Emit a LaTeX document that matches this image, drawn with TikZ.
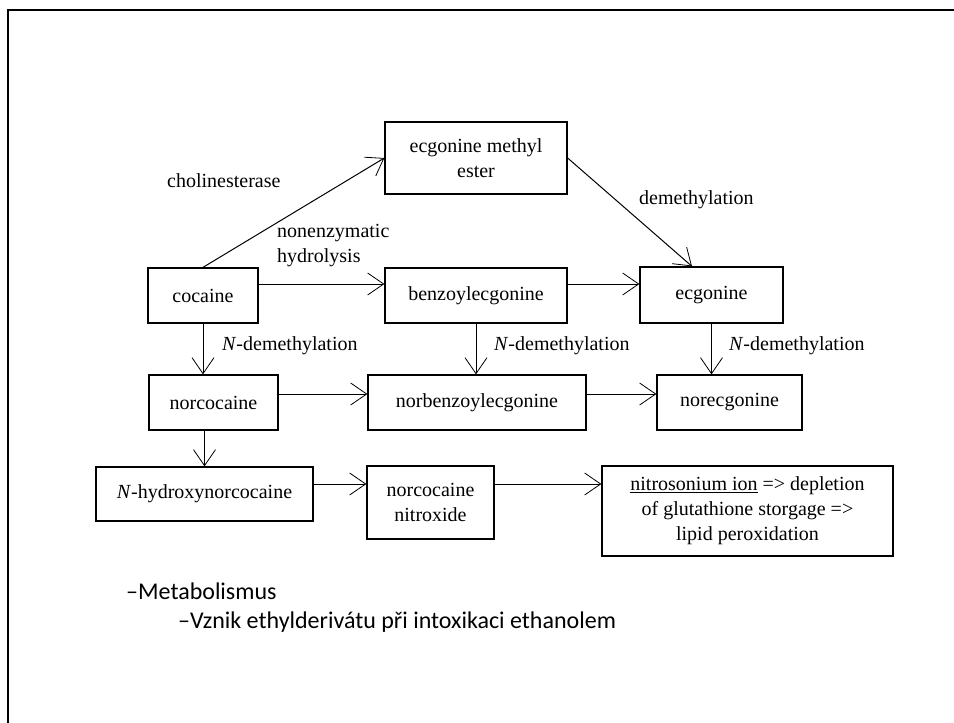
\documentclass[tikz,border=0pt]{standalone}
\usepackage{fontspec}
\setmainfont{Liberation Serif}
\newfontfamily\slidefont{Carlito}
\usetikzlibrary{arrows.meta}

\begin{document}
\begin{tikzpicture}
  [x=1pt,y=-1pt,
   every node/.style={font=\fontsize{20}{25}\selectfont,inner sep=0pt},
   chem/.style={draw,line width=1.3pt,align=center},
   arr/.style={line width=1pt,-{Straight Barb[length=16pt,width=22pt,line width=0.8pt]}},
   slide/.style={anchor=west,font=\slidefont\fontsize{24}{29}\selectfont}]
  \useasboundingbox (0,0) rectangle (954,723);
  \draw[line width=2pt] (8,723) -- (8,10) -- (954,10);
  % compounds
  \node[chem,minimum width=182pt,minimum height=72pt] (eme) at (476,158) {ecgonine methyl\\ester};
  \node[chem,minimum width=110pt,minimum height=55pt] (coc) at (203,295.5) {cocaine};
  \node[chem,minimum width=182pt,minimum height=55pt] (bz) at (476,295.5) {benzoylecgonine};
  \node[chem,minimum width=143pt,minimum height=56pt] (ec) at (711.5,295) {ecgonine};
  \node[chem,minimum width=129pt,minimum height=55pt] (nc) at (213.5,402.5) {norcocaine};
  \node[chem,minimum width=218pt,minimum height=55pt] (nbz) at (477,402.5) {norbenzoylecgonine};
  \node[chem,minimum width=145pt,minimum height=55pt] (nec) at (729.5,402.5) {norecgonine};
  \node[chem,minimum width=217pt,minimum height=54pt] (hnc) at (204.5,494) {\emph{N}-hydroxynorcocaine};
  \node[chem,minimum width=127pt,minimum height=73pt] (nox) at (430.5,502.5) {norcocaine\\nitroxide};
  \node[chem,minimum width=291pt,minimum height=90pt] (nio) at (747.5,511) {\underline{nitrosonium ion} => depletion\\of glutathione storgage =>\\lipid peroxidation};
  % labels
  \node[anchor=west] (lchol) at (167,181) {cholinesterase};
  \node[anchor=west,align=left] (lhyd) at (277,246) {nonenzymatic\\hydrolysis};
  \node[anchor=west] (ldem) at (639,200) {demethylation};
  \foreach \name/\x in {lnd1/222,lnd2/494,lnd3/729}
    \node[anchor=west] (\name) at (\x,346) {\emph{N}-demethylation};
  % reactions
  \draw[arr] (coc.north) -- (eme.west);
  \draw[arr] (eme.east) -- ([xshift=-19.5pt]ec.north);
  \draw[arr] ([yshift=11.5pt]coc.east) -- ([yshift=11.5pt]bz.west);
  \draw[arr] ([yshift=11.5pt]bz.east) -- ([yshift=11pt]ec.west);
  \draw[arr] ([yshift=8.5pt]nc.east) -- ([yshift=8.5pt]nbz.west);
  \draw[arr] ([yshift=8.5pt]nbz.east) -- ([yshift=8.5pt]nec.west);
  \draw[arr] (coc.south) -- (nc.north -| coc.south);
  \draw[arr] (bz.south) -- (nbz.north -| bz.south);
  \draw[arr] (ec.south) -- (nec.north -| ec.south);
  \draw[arr] (nc.south -| hnc.north) -- (hnc.north);
  \draw[arr] ([yshift=10pt]hnc.east) -- ([yshift=18.5pt]nox.west);
  \draw[arr] ([yshift=18.5pt]nox.east) -- ([yshift=27pt]nio.west);
  % slide text
  \node[slide] (meta) at (126,591) {–Metabolismus};
  \node[slide] (vznik) at (178,622) {–Vznik ethylderivátu při intoxikaci ethanolem};
\end{tikzpicture}
\end{document}
